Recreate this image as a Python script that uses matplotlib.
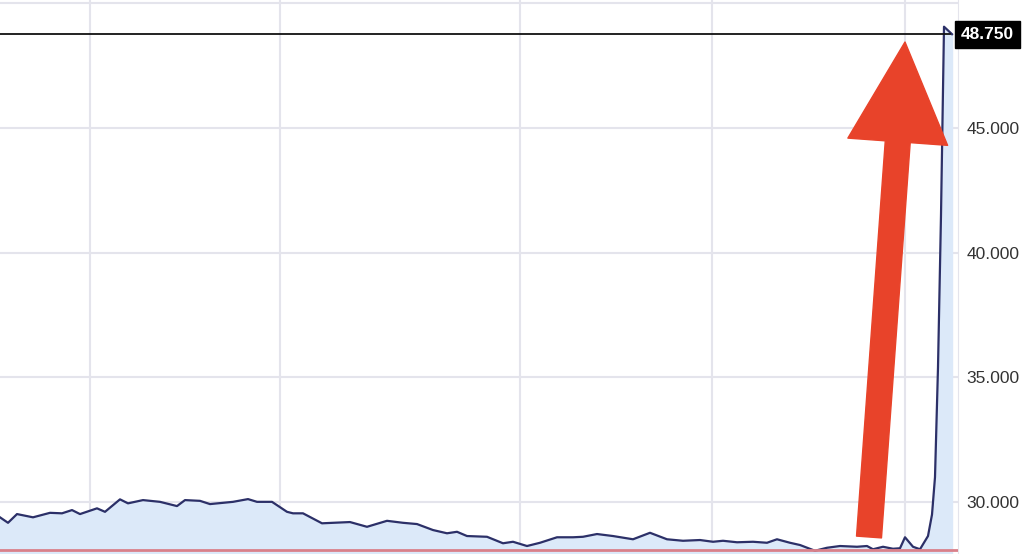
import matplotlib.pyplot as plt
from matplotlib.ticker import FixedLocator, FuncFormatter

# price series (x = position along the time axis)
t = [0, 8, 17, 33, 50, 62, 72, 80, 97, 105, 120, 128, 143, 160, 177, 185,
     200, 210, 233, 248, 257, 272, 287, 293, 303, 322, 333, 350, 367, 387,
     403, 417, 433, 447, 457, 467, 487, 503, 513, 527, 540, 557, 573, 583,
     597, 613, 633, 650, 667, 683, 700, 713, 723, 737, 753, 767, 777, 790,
     800, 815, 827, 840, 857, 867, 873, 883, 893, 900, 905, 913, 920, 928,
     932, 935, 938, 941, 944, 952]
price = [29390, 29170, 29520, 29390, 29570, 29550, 29680, 29520, 29750, 29610,
         30110, 29950, 30080, 30010, 29840, 30080, 30050, 29920, 30010, 30120,
         30010, 30010, 29610, 29550, 29550, 29150, 29170, 29200, 29010, 29250,
         29170, 29120, 28880, 28750, 28810, 28640, 28610, 28350, 28410, 28240,
         28370, 28590, 28590, 28610, 28720, 28640, 28510, 28770, 28510, 28450,
         28480, 28410, 28450, 28390, 28410, 28370, 28510, 28370, 28280, 28050,
         28170, 28240, 28210, 28240, 28110, 28210, 28130, 28150, 28590, 28210,
         28110, 28640, 29500, 31000, 35400, 41500, 49050, 48750]
last_price = 48750
y_ticks = [30000, 35000, 40000, 45000]
x_grid = [90, 280, 520, 712, 905]

fig = plt.figure(figsize=(10.24, 5.54), dpi=100)
ax = fig.add_axes([0, 0, 958 / 1024, 1])
ax.set_xlim(0, 958)
ax.set_ylim(27920, 50120)

grid_c = "#e4e4ec"
for v in y_ticks + [50000]:
    ax.axhline(v, color=grid_c, lw=1.5, zorder=0)
for v in x_grid:
    ax.axvline(v, color=grid_c, lw=1.5, zorder=0)

ax.fill_between(t, price, 27920, color="#dce9f9", zorder=1)
ax.plot(t, price, color="#2c3068", lw=1.6, zorder=3)
ax.axhline(28080, color="#d9808a", lw=2, zorder=4)
ax.plot([0, 950], [last_price, last_price], color="#111111", lw=1.3, zorder=3)

for s in ["top", "left", "bottom"]:
    ax.spines[s].set_visible(False)
ax.spines["right"].set_color(grid_c)
ax.set_xticks([])
ax.yaxis.tick_right()
ax.yaxis.set_major_locator(FixedLocator(y_ticks))
ax.yaxis.set_major_formatter(FuncFormatter(lambda v, p: f"{v / 1000:.3f}"))
ax.tick_params(axis="y", length=0, pad=6, labelsize=12.5, colors="#333333")
for lab in ax.get_yticklabels():
    lab.set_family("Liberation Sans")

ax.text(1.003, (last_price - 27920) / (50120 - 27920), f"{last_price / 1000:.3f}",
        transform=ax.transAxes, ha="left", va="center", fontsize=12.5,
        fontweight="bold", color="white", family="Liberation Sans",
        bbox=dict(boxstyle="square,pad=0.35", fc="black", ec="black"), clip_on=False)

# big red arrow
ax.annotate("", xy=(905, 512), xycoords="figure pixels",
            xytext=(869, 17), textcoords="figure pixels",
            arrowprops=dict(arrowstyle="simple,head_width=3.6,head_length=3.6,tail_width=0.9",
                            mutation_scale=20, fc="#e8432a", ec="#e8432a",
                            shrinkA=0, shrinkB=0), zorder=6)

fig.savefig("out.png", dpi=100)
